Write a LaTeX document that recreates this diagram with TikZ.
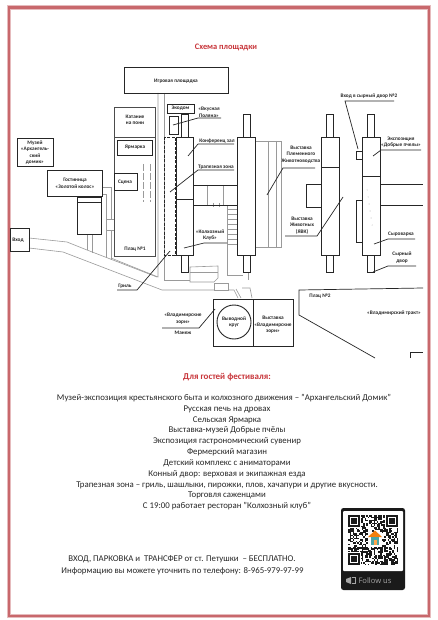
\documentclass[tikz,border=0pt]{standalone}
\usepackage{fontspec}
\setmainfont{Carlito}
\newfontfamily\followfont{Open Sans}
\definecolor{framered}{HTML}{C8686C}
\definecolor{titlered}{HTML}{C8353A}
\definecolor{roadgray}{HTML}{9A9A9A}
\definecolor{qrblack}{HTML}{1A1A1A}
\begin{document}
\begin{tikzpicture}[x=1pt, y=-1pt,
    wall/.style={black!85, line width=0.9pt},
    road/.style={roadgray, line width=0.6pt},
    lead/.style={black!85, line width=0.7pt},
    lab/.style={font=\fontsize{5.3}{6.4}\selectfont\bfseries, text=black!85, align=center, inner sep=0pt},
    info/.style={font=\fontsize{8.8}{9}\selectfont, text=black!85, inner sep=0pt},
    head/.style={font=\fontsize{8.4}{9}\selectfont\bfseries, text=titlered, inner sep=0pt}]
  \useasboundingbox (0,0) rectangle (438,620);
  \fill[white] (0,0) rectangle (438,620);
  % frame
  \draw[framered!45, line width=4.2pt] (9,7.5) rectangle (429,616);
  \draw[framered, line width=2.4pt] (9,7.5) rectangle (429,616);
  \node[head] (title) at (226,47) {Схема площадки};
  % roads
  \draw[road] (158,93) -- (158,277) -- (111,258);
  \draw[road] (164,93) -- (164,280) -- (190,280);
  \draw[road] (29,238) -- (67,242) -- (87,250) -- (157,277);
  \draw[road] (29,248) -- (63,252) -- (162,290) -- (214,290);
  \draw[road] (102,187) -- (111,187) -- (111,219);
  \draw[road] (102,194) -- (106,194) -- (106,258);
  \draw[road] (106,219) rectangle (114,230);
  \draw[road] (111,230) -- (111,260);
  \draw[road] (87,234) -- (87,250);
  \draw[road] (92,234) -- (92,253);
  \draw[road] (255,141) rectangle (281,247);
  \draw[road] (268,141) -- (268,247);
  \draw[road] (276,141) -- (276,247);
  \draw[road] (207,185) -- (207,205);
  \draw[road] (223,185) -- (223,205);
  \draw[road] (213,203) -- (213,207) (219,203) -- (219,207);
  \foreach \y in {209,214,...,244}
    \draw[road] (227,\y) -- (237,\y);
  \draw[road] (227,205) -- (227,275) -- (243,275);
  \draw[road] (248,272) -- (248,280);
  \draw[road] (190,267) -- (218,266) -- (218,278) -- (214,282) -- (190,282) -- cycle;
  \draw[road] (190,272) -- (218,272);
  \draw[road] (214,283) rectangle (228,290);
  \draw[road] (228,290) -- (234,290) -- (238,298);
  \draw[road] (236,289) -- (241,298);
  \draw[road] (242,288) -- (250,288) -- (252,298);
  % left side
  \draw[wall] (124,67) rectangle (228,93);
  \draw[wall, line width=0.7pt, black!70] (114,107) rectangle (155,137);
  \draw[wall, line width=0.7pt, black!70] (114,137) rectangle (155,256);
  \draw[wall] (117,140) rectangle (152,155);
  \draw[wall] (114,173) rectangle (137,190);
  \draw[road, dash pattern=on 7pt off 2pt] (143,164) -- (143,202);
  \draw[road, dash pattern=on 7pt off 2pt] (150,164) -- (150,202);
  \draw[wall] (17,138) rectangle (53,166);
  \draw[wall] (47,170) rectangle (102,196);
  \draw[wall] (77,197) rectangle (101,234);
  \draw[wall] (77,202) -- (101,202);
  \draw[wall] (10,228) rectangle (29,251);
  % centre buildings
  \draw[wall, dashed, dash pattern=on 3pt off 1.5pt] (164,137) rectangle (175,255);
  \draw[wall] (176,137) rectangle (193,255);
  \draw[wall] (176,199) -- (193,199);
  \draw[wall] (193,185) -- (237,185);
  \draw[wall] (193,205) -- (237,205);
  \draw[wall] (167,104) rectangle (194,113);
  \draw[wall] (169,116) rectangle (178,134);
  \draw[wall] (237,137) rectangle (255,255);
  \draw[wall] (321,137) rectangle (339,255);
  \draw[wall] (321,167) -- (339,167);
  \draw[wall] (306,184) rectangle (321,207);
  \draw[wall] (362,137) rectangle (380,255);
  \draw[wall] (362,176) -- (380,176);
  \draw[wall] (356,151) rectangle (362,159);
  \draw[wall] (356,200) rectangle (362,242);
  \draw[wall] (380,184) -- (423,184);
  \draw[wall] (380,205) -- (423,205);
  % towers
  \foreach \x in {181,243,326,367} {
    \draw[wall] (\x,114) rectangle ++(7,23);
    \draw[wall] (\x,255) rectangle ++(7,17);
  }
  \foreach \y in {190,197,...,225}
    \fill[roadgray] (367+\y/7-27,\y) circle (0.4);
  % bottom block
  \draw[wall] (213,299) rectangle (293,346);
  \draw[wall] (253,299) -- (253,346);
  \draw[wall] (234,322) circle (17);
  % plac 2
  \draw[wall, line width=0.7pt] (423,288) -- (299,290) -- (299,315) -- (375,358);
  \draw[wall, line width=0.7pt] (410,358) -- (410,352) -- (423,352);
  % leaders
  \draw[lead] (117,290) -- (137,290) -- (170,251);
  \draw[lead] (162,328) -- (199,328) -- (215,309);
  \draw[lead] (227,243) -- (204,243) -- (184,248);
  \draw[lead] (234,144) -- (198,144) -- (188,156);
  \draw[lead] (234,170) -- (198,170) -- (170,192);
  \draw[lead] (221,118) -- (198,118) -- (173,125);
  \draw[lead] (394,101) -- (345,101) -- (358,149);
  \draw[lead] (421,150) -- (381,150) -- (373,156);
  \draw[lead] (415,239) -- (388,239) -- (374,244);
  \draw[lead] (416,266) -- (388,266) -- (373,272);
  \draw[lead] (315,168) -- (283,168) -- (267,195);
  \draw[lead] (285,236) -- (317,236) -- (343,197);
  % labels
  \node[lab] (igra) at (176,81) {Игровая площадка};
  \node[lab] (pony) at (135,120) {Катание\\на пони};
  \node[lab] (yarm) at (135,147.5) {Ярмарка};
  \node[lab] (scena) at (125,182) {Сцена};
  \node[lab] (plac1) at (135,249.5) {Плац №1};
  \node[lab] (muzei) at (35,152.5) {Музей\\«Архангель-\\ский\\домик»};
  \node[lab] (gost) at (75,183.5) {Гостиница\\«Золотой колос»};
  \node[lab] (vhod) at (18,240) {Вход};
  \node[lab] (ekodom) at (180.5,108.5) {Экодом};
  \node[lab] (polyana) at (209,112.5) {«Вкусная\\Поляна»};
  \node[lab] (konf) at (217,141) {Конференц зал};
  \node[lab] (trapez) at (216,167.5) {Трапезная зона};
  \node[lab] (klub) at (210,235) {«Колхозный\\Клуб»};
  \node[lab] (gril) at (125,286) {Гриль};
  \node[lab] (zori) at (183,318.5) {«Владимирские\\зори»};
  \node[lab] (manezh) at (183,333) {Манеж};
  \node[lab] (krug) at (234,322) {Выводной\\круг};
  \node[lab] (vyzori) at (273,325) {Выставка\\«Владимирские\\зори»};
  \node[lab] (plem) at (301,154.5) {Выставка\\Племенного\\Животноводства};
  \node[lab] (zhiv) at (302,225.5) {Выставка\\Животных\\(ЯВК)};
  \node[lab] (vhod2) at (369,96) {Вход в сырный двор №2};
  \node[lab] (pchely) at (401,142) {Экспозиция\\«Добрые пчелы»};
  \node[lab] (syrov) at (401,234) {Сыроварка};
  \node[lab] (syrdvor) at (402,257.5) {Сырный\\двор};
  \node[lab] (plac2) at (320,296) {Плац №2};
  \node[lab] (trakt) at (394,313) {«Владимирский тракт»};
  % guests
  \node[head, font=\fontsize{9}{9}\selectfont\bfseries] (guests) at (227,377) {Для гостей фестиваля:};
  \node[info] (l1) at (224,398) {Музей-экспозиция крестьянского быта и колхозного движения – "Архангельский Домик"};
  \node[info] (l2) at (227,409) {Русская печь на дровах};
  \node[info] (l3) at (227,420) {Сельская Ярмарка};
  \node[info] (l4) at (227,430.5) {Выставка-музей Добрые пчёлы};
  \node[info] (l5) at (227,441.5) {Экспозиция гастрономический сувенир};
  \node[info] (l6) at (227,452) {Фермерский магазин};
  \node[info] (l7) at (227,463) {Детский комплекс с аниматорами};
  \node[info] (l8) at (227,474) {Конный двор: верховая и экипажная езда};
  \node[info] (l9) at (227,485) {Трапезная зона – гриль, шашлыки, пирожки, плов, хачапури и другие вкусности.};
  \node[info] (l10) at (227,495.5) {Торговля саженцами};
  \node[info] (l11) at (227,506) {С 19:00 работает ресторан "Колхозный клуб"};
  \node[info] (free) at (182,559) {ВХОД, ПАРКОВКА и\ \ ТРАНСФЕР от ст. Петушки\ \ – БЕСПЛАТНО.};
  \node[info] (phone) at (182.5,571) {Информацию вы можете уточнить по телефону: 8-965-979-97-99};
  % qr
  \fill[qrblack, rounded corners=2.5pt] (341,508) rectangle (405,590);
  \fill[white, rounded corners=1pt] (343,511) rectangle (403,571);
  \pgfmathsetseed{11}
  \foreach \i in {0,...,32}
    \foreach \j in {0,...,32} {
      \pgfmathrandominteger{\bit}{0}{1}
      \ifnum\bit=1
        \fill[qrblack] (348+1.52*\i,515+1.52*\j) rectangle ++(1.6,1.6);
      \fi
    }
  \foreach \x/\y in {348/515,386/515,348/553} {
    \fill[white] (\x-1,\y-1) rectangle ++(14,14);
    \fill[qrblack] (\x,\y) rectangle ++(12,12);
    \fill[white] (\x+1.7,\y+1.7) rectangle ++(8.6,8.6);
    \fill[qrblack] (\x+3.4,\y+3.4) rectangle ++(5.2,5.2);
  }
  \fill[white] (368,532) rectangle (382,547);
  \fill[orange!80!brown] (375,530.5) -- (382,537) -- (368,537) -- cycle;
  \fill[teal!70] (371,537) rectangle (379,545);
  \fill[orange!70] (373.5,540) rectangle (376.5,545);
  \fill[gray!70] (346,579) -- (351,577) -- (351,584) -- (346,582) -- cycle;
  \draw[gray!70, line width=0.5pt] (352,577.5) -- (355,577.5) -- (355,583) -- (352,583);
  \node[font=\followfont\fontsize{7.6}{8}\selectfont, text=gray!70, inner sep=0pt] (follow) at (375,581) {Follow us};
\end{tikzpicture}
\end{document}
